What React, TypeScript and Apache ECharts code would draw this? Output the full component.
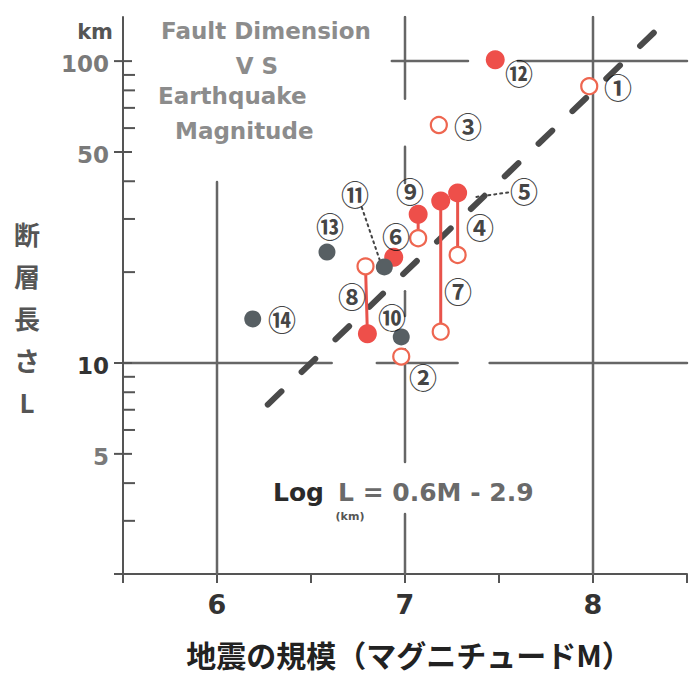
import React, { useEffect, useRef } from 'react';
import * as echarts from 'echarts';

// ---- axis ranges ----
const X_MIN = 5.5;
const X_MAX = 8.5;
const Y_MIN = 2;
const Y_MAX = 140;

// ---- tick values ----
const xTickLabels = [6, 7, 8];
const yMajorTicks = [2, 5, 10, 50, 100];
const yMinorTicks = [3, 4, 6, 7, 8, 9, 20, 30, 40, 60, 70, 80, 90];
const yTickLabels = [5, 10, 50, 100];

// ---- data points [Magnitude, Length km] ----
const grayPoints = [
  [6.19, 14.0], // 14
  [6.585, 23.3], // 13
  [6.98, 12.2], // 10
];
const grayPoint11 = [[6.89, 20.8]];
const redPoints = [
  [6.94, 22.4], // 6
  [7.48, 101], // 12
  [6.8, 12.5], // 8
  [7.07, 31.1], // 9
  [7.19, 34.4], // 7
  [7.28, 36.6], // 4
];
const openPoints = [
  [6.79, 20.9], // 8
  [7.07, 25.9], // 9
  [7.19, 12.7], // 7
  [7.28, 22.8], // 4
  [7.18, 61.4], // 3
  [7.98, 82.6], // 1
  [6.98, 10.5], // 2
];
// vertical ranges joining paired estimates
const rangePairs = [
  [[6.79, 20.9], [6.8, 12.5]], // 8
  [[7.07, 31.1], [7.07, 25.9]], // 9
  [[7.19, 34.4], [7.19, 12.7]], // 7
  [[7.28, 36.6], [7.28, 22.8]], // 4
];
// dotted leader lines
const leaders = [
  [[6.77, 32.8], [6.867, 21.8]], // 11
  [[7.38, 35.5], [7.56, 36.8]], // 5
];
// fit: Log L = 0.6M - 2.9
const fitLine = [[6.27, 7.28], [8.34, 127]];

// circled identifiers and where they sit
const labelNames = ['①', '②', '③', '④', '⑤', '⑥', '⑦', '⑧', '⑨', '⑩', '⑪', '⑫', '⑬', '⑭'];
const labelAnchors = [
  [8.133, 82.0],
  [7.096, 9.0],
  [7.335, 60.9],
  [7.399, 28.2],
  [7.633, 37.1],
  [6.952, 26.3],
  [7.282, 17.3],
  [6.718, 16.7],
  [7.027, 37.1],
  [6.931, 14.2],
  [6.734, 36.3],
  [7.606, 91.3],
  [6.601, 28.4],
  [6.346, 14.0],
];

// hand-drawn reference grid (broken around labels)
const gridSegments = [
  [[6, 2], [6, 39.8]],
  [[7, 140], [7, 75]],
  [[7, 52], [7, 39.5]],
  [[7, 17.3], [7, 14.3]],
  [[7, 11.1], [7, 4.7]],
  [[7, 3.16], [7, 2]],
  [[8, 140], [8, 2]],
  [[6.93, 100], [7.335, 100]],
  [[7.6, 100], [8.5, 100]],
  [[5.5, 10], [6.61, 10]],
  [[6.85, 10], [7.28, 10]],
  [[7.45, 10], [8.5, 10]],
];

const FONT = '"DejaVu Sans", sans-serif';
const CJK = '"Noto Sans CJK JP", sans-serif';

export default function App() {
  const ref = useRef<HTMLDivElement>(null);
  useEffect(() => {
    if (!ref.current) return;
    const chart = echarts.init(ref.current, null, { renderer: 'svg' });
    const seg = (data: number[][], color: string, width: number, type: any, z: number) => ({
      type: 'line',
      data,
      symbol: 'none',
      silent: true,
      z,
      lineStyle: { color, width, type, cap: 'round' },
    });
    const series: any[] = [];
    gridSegments.forEach((s) => series.push(seg(s, '#666666', 2.5, 'solid', 1)));
    series.push({
      ...seg(fitLine, '#4a4a4a', 6, [19, 28], 2),
    });
    rangePairs.forEach((s) => series.push(seg(s, '#e8534b', 3, 'solid', 3)));
    leaders.forEach((s) => series.push(seg(s, '#444444', 2, [2, 4], 3)));
    series.push({
      type: 'scatter',
      data: openPoints,
      symbolSize: 16,
      z: 4,
      itemStyle: { color: '#ffffff', borderColor: '#ee6650', borderWidth: 2.2, opacity: 1 },
    });
    series.push({
      type: 'scatter',
      data: redPoints,
      symbolSize: 19,
      z: 5,
      itemStyle: { color: '#ee4f4a', opacity: 1 },
    });
    series.push({
      type: 'scatter',
      data: [...grayPoints, ...grayPoint11],
      symbolSize: 17,
      z: 6,
      itemStyle: { color: '#575f63', opacity: 1 },
    });
    series.push({
      type: 'scatter',
      data: labelNames.map((n, i) => ({ name: n, value: labelAnchors[i] })),
      symbolSize: 1,
      z: 7,
      itemStyle: { color: 'rgba(0,0,0,0)' },
      label: {
        show: true,
        position: 'inside',
        formatter: '{b}',
        fontSize: 28,
        fontWeight: 'bold',
        color: '#111111',
        fontFamily: CJK,
      },
    });
    // y-axis ticks drawn through the log scale
    series.push({
      type: 'custom',
      silent: true,
      z: 8,
      data: [
        ...yMajorTicks.map((v) => [X_MIN, v, 1]),
        ...yMinorTicks.map((v) => [X_MIN, v, 0]),
      ],
      renderItem: (_p: any, api: any) => {
        const p = api.coord([api.value(0), api.value(1)]);
        const major = api.value(2) === 1;
        return {
          type: 'line',
          shape: { x1: p[0] - (major ? 9 : 0), y1: p[1], x2: p[0] + (major ? 9 : 12), y2: p[1] },
          style: { stroke: '#555555', lineWidth: 2 },
        };
      },
    });
    series.push({
      type: 'custom',
      silent: true,
      z: 8,
      data: yTickLabels.map((v) => [X_MIN, v]),
      renderItem: (_p: any, api: any) => {
        const p = api.coord([api.value(0), api.value(1)]);
        const v = api.value(1);
        return {
          type: 'text',
          x: p[0] - 14,
          y: p[1] + 3,
          style: {
            text: String(v),
            fill: v === 10 ? '#333333' : '#7a7a7a',
            fontSize: 23,
            fontWeight: 'bold',
            fontFamily: FONT,
            align: 'right',
            verticalAlign: 'middle',
          },
        };
      },
    });

    chart.setOption({
      animation: false,
      backgroundColor: '#ffffff',
      grid: { left: 123, right: 4, top: 17, bottom: 101, containLabel: false },
      xAxis: {
        type: 'value',
        min: X_MIN,
        max: X_MAX,
        interval: 0.5,
        splitLine: { show: false },
        axisLine: { show: true, lineStyle: { color: '#555555', width: 2 } },
        axisTick: { show: true, length: 9, lineStyle: { color: '#555555', width: 2 } },
        axisLabel: {
          formatter: (v: number) => (xTickLabels.includes(v) ? String(v) : ''),
          fontSize: 27,
          fontWeight: 'bold',
          color: '#333333',
          fontFamily: FONT,
          margin: 17,
        },
      },
      yAxis: {
        type: 'log',
        logBase: 10,
        min: Y_MIN,
        max: Y_MAX,
        splitLine: { show: false },
        axisLine: { show: true, lineStyle: { color: '#555555', width: 2 } },
        axisTick: { show: false },
        axisLabel: { show: false },
      },
      graphic: [
        {
          type: 'text', x: 113, y: 32,
          style: { text: 'km', fontSize: 21, fontWeight: 'bold', fill: '#555555', fontFamily: FONT, align: 'right', verticalAlign: 'middle' },
        },
        {
          type: 'text', x: 266, y: 31,
          style: { text: 'Fault Dimension', fontSize: 23, fontWeight: 'bold', fill: '#8c8c8c', fontFamily: FONT, align: 'center', verticalAlign: 'middle' },
        },
        {
          type: 'text', x: 257, y: 66,
          style: { text: 'V S', fontSize: 23, fontWeight: 'bold', fill: '#8c8c8c', fontFamily: FONT, align: 'center', verticalAlign: 'middle' },
        },
        {
          type: 'text', x: 158, y: 96,
          style: { text: 'Earthquake', fontSize: 23, fontWeight: 'bold', fill: '#8c8c8c', fontFamily: FONT, align: 'left', verticalAlign: 'middle' },
        },
        {
          type: 'text', x: 175, y: 131,
          style: { text: 'Magnitude', fontSize: 23, fontWeight: 'bold', fill: '#8c8c8c', fontFamily: FONT, align: 'left', verticalAlign: 'middle' },
        },
        {
          type: 'text', x: 273, y: 492,
          style: { text: 'Log', fontSize: 25, fontWeight: 'bold', fill: '#2a2a2a', fontFamily: FONT, align: 'left', verticalAlign: 'middle' },
        },
        {
          type: 'text', x: 338, y: 492,
          style: { text: 'L = 0.6M - 2.9', fontSize: 25, fontWeight: 'bold', fill: '#6a6a6a', fontFamily: FONT, align: 'left', verticalAlign: 'middle' },
        },
        {
          type: 'text', x: 350, y: 516,
          style: { text: '(km)', fontSize: 11, fontWeight: 'bold', fill: '#555555', fontFamily: FONT, align: 'center', verticalAlign: 'middle' },
        },
        {
          type: 'text', x: 27, y: 212,
          style: { text: '断\n層\n長\nさ\nL', fontSize: 26, lineHeight: 42, fontWeight: 'bold', fill: '#555555', fontFamily: CJK, align: 'center', verticalAlign: 'top' },
        },
        {
          type: 'text', x: 409, y: 654,
          style: { text: '地震の規模（マグニチュードM）', fontSize: 30, fontWeight: 'bold', fill: '#222222', fontFamily: CJK, align: 'center', verticalAlign: 'middle' },
        },
      ],
      series,
    });
    return () => chart.dispose();
  }, []);
  return <div ref={ref} style={{ width: 691, height: 675, position: 'absolute', left: 0, top: 0 }} />;
}
